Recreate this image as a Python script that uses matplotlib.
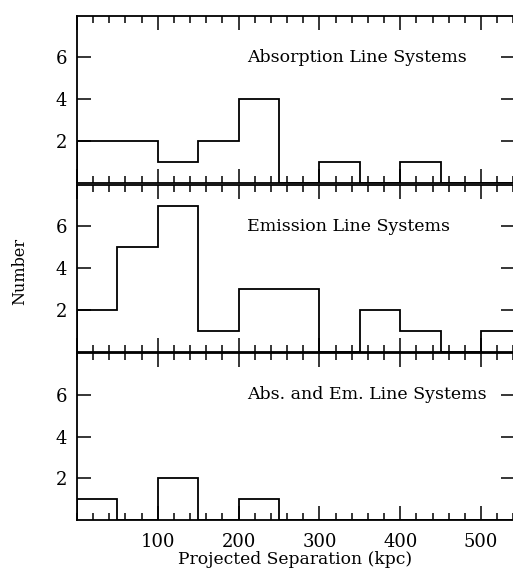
import matplotlib.pyplot as plt
from matplotlib.ticker import MultipleLocator

# bin edges (kpc) and counts per 50 kpc bin
bin_edges = [0, 50, 100, 150, 200, 250, 300, 350, 400, 450, 500, 550]
absorption = [2, 2, 1, 2, 4, 0, 1, 0, 1, 0, 0]
emission = [2, 5, 7, 1, 3, 3, 0, 2, 1, 0, 1]
both = [1, 0, 2, 0, 1, 0, 0, 0, 0, 0, 0]
titles = ['Absorption Line Systems', 'Emission Line Systems', 'Abs. and Em. Line Systems']

plt.rcParams['font.family'] = ['DejaVu Serif']

fig = plt.figure(figsize=(5.13, 5.70), dpi=100)

left = 77 / 513
width = (515 - 77) / 513
bottoms = [0.6795, 0.383, 0.0877]
h = 0.293

for i, (vals, title) in enumerate(zip([absorption, emission, both], titles)):
    ax = fig.add_axes([left, bottoms[i], width, h])
    ax.stairs(vals, bin_edges, color='black', linewidth=1.3, baseline=0)
    ax.set_xlim(0, 542)
    ax.set_ylim(0, 8)
    ax.xaxis.set_major_locator(MultipleLocator(100))
    ax.xaxis.set_minor_locator(MultipleLocator(20))
    ax.set_yticks([2, 4, 6])
    ax.tick_params(which='both', direction='in', top=True, right=True, width=1.1)
    ax.tick_params(which='major', length=10, labelsize=13, pad=7)
    ax.tick_params(which='minor', length=5)
    for s in ax.spines.values():
        s.set_linewidth(1.3)
    ax.text(210, 6, title, fontsize=12.5, va='center', ha='left')
    if i < 2:
        ax.set_xticklabels([])
    else:
        ax.set_xticks([100, 200, 300, 400, 500])
        ax.tick_params(axis='x', which='major', pad=9)

# axis titles
fig.text(left + 0.5 * (513 - 77) / 513, 0.004, 'Projected Separation (kpc)',
         ha='center', va='bottom', fontsize=12.3)
fig.text(0.039, 0.523, 'Number', rotation=90, va='center', ha='center', fontsize=11.5)

fig.savefig('out.png', dpi=100)
